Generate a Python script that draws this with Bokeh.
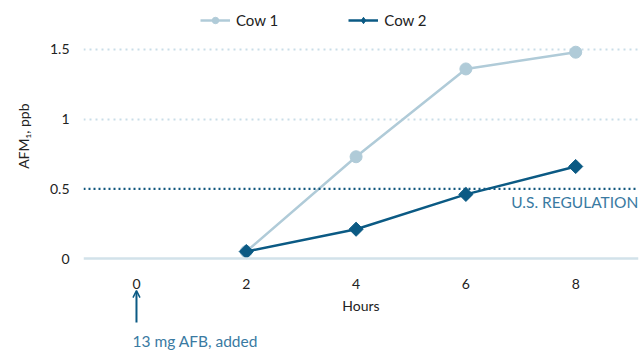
import math
from bokeh.plotting import figure
from bokeh.models import (ColumnDataSource, Range1d, FixedTicker, Span, Label,
                          Arrow, OpenHead, Legend, LegendItem, Title)
from bokeh.embed import file_html
from bokeh.resources import INLINE

hours = [2, 4, 6, 8]
cow1 = [0.05, 0.73, 1.36, 1.48]
cow2 = [0.05, 0.21, 0.46, 0.66]
x_ticks = [0, 2, 4, 6, 8]
y_ticks = [0, 0.5, 1, 1.5]
y_tick_labels = {0: "0", 0.5: "0.5", 1: "1", 1.5: "1.5"}
regulation = 0.5
dose_hour = 0

FONT = "Lato"
C1 = "#b0cbd8"
C2 = "#0b5a84"
GRID = "#c9dde8"
TXT = "#222222"
NOTE = "#3a7aa2"

p = figure(width=641, height=350, output_backend="svg", toolbar_location=None,
           x_range=Range1d(-0.965, 9.144), y_range=Range1d(-0.66, 1.851),
           min_border_left=83, min_border_right=3, min_border_top=0,
           min_border_bottom=0)
p.outline_line_color = None
p.background_fill_color = None
p.border_fill_color = None

# axes
p.xaxis.ticker = FixedTicker(ticks=x_ticks)
p.xaxis.fixed_location = 0
p.yaxis.ticker = FixedTicker(ticks=y_ticks)
p.yaxis.major_label_overrides = y_tick_labels
for ax in (p.xaxis, p.yaxis):
    ax.axis_line_color = None
    ax.major_tick_line_color = None
    ax.minor_tick_line_color = None
    ax.major_label_text_font = FONT
    ax.major_label_text_font_size = "14px"
    ax.major_label_text_color = TXT
    ax.axis_label_text_font = FONT
    ax.axis_label_text_font_size = "14px"
    ax.axis_label_text_font_style = "normal"
    ax.axis_label_text_color = TXT
p.xaxis.axis_label = "Hours"
p.xaxis.major_label_standoff = 14
p.xaxis.axis_label_standoff = 5
p.yaxis.major_label_standoff = 8

p.add_layout(Title(text="AFM\u2081, ppb", align="right", offset=103, standoff=25,
                   vertical_align="top",
                   text_font=FONT, text_font_size="14px", text_font_style="normal",
                   text_color=TXT), "left")

p.xgrid.grid_line_color = None
p.ygrid.ticker = FixedTicker(ticks=[1, 1.5])
p.ygrid.grid_line_color = GRID
p.ygrid.grid_line_width = 2
p.ygrid.grid_line_dash = "2 4"

# baseline and regulation line
p.add_layout(Span(location=0, dimension="width", line_color="#d2e2ea", line_width=2.5))
p.add_layout(Span(location=regulation, dimension="width", line_color="#12587f",
                  line_width=2.2, line_dash="2 3"))
p.add_layout(Label(x=9.14, y=regulation - 0.03, text="U.S. REGULATION",
                   text_align="right", text_baseline="top", text_font=FONT,
                   text_font_size="15.5px", text_color=NOTE))

src = ColumnDataSource(dict(h=hours, c1=cow1, c2=cow2))
l1 = p.line("h", "c1", source=src, line_color=C1, line_width=2.5)
m1 = p.scatter("h", "c1", source=src, marker="circle", size=12, fill_color=C1, line_color=C1)
l2 = p.line("h", "c2", source=src, line_color=C2, line_width=2.5)
m2 = p.scatter("h", "c2", source=src, marker="square", size=10, angle=math.pi / 4,
               fill_color=C2, line_color=C2)
# legend-only marker (off-chart point) so the key shows a diamond
key2 = p.scatter(x=[float("nan")], y=[float("nan")], marker="diamond", size=15,
                 fill_color=C2, line_color=C2)

legend = Legend(items=[LegendItem(label="Cow 1", renderers=[l1, m1]),
                       LegendItem(label="Cow 2", renderers=[l2, key2])],
                orientation="horizontal", location=(117, 321),
                label_text_font=FONT, label_text_font_size="15px",
                label_text_color=TXT, glyph_width=30, glyph_height=16,
                spacing=70, label_standoff=6, padding=2, margin=0,
                background_fill_alpha=0, border_line_color=None)
p.add_layout(legend, "center")

# dose annotation
p.add_layout(Arrow(x_start=dose_hour, y_start=-0.46, x_end=dose_hour, y_end=-0.23,
                   line_color=C2, line_width=2,
                   end=OpenHead(size=7, line_color=C2, line_width=1.5)))
p.add_layout(Label(x=dose_hour - 0.073, y=-0.53, text="13 mg AFB, added",
                   text_align="left", text_baseline="top", text_font=FONT,
                   text_font_size="15.5px", text_color=NOTE))

open("out.html", "w").write(file_html(p, INLINE))
